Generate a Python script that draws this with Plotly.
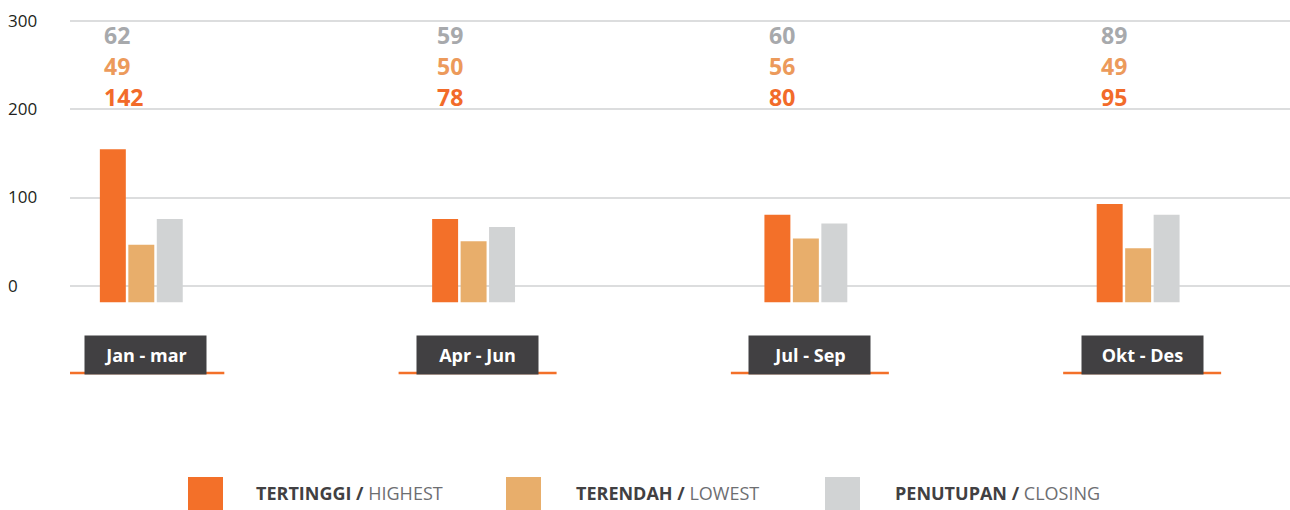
import plotly.graph_objects as go

quarters = ["Jan - mar", "Apr - Jun", "Jul - Sep", "Okt - Des"]

# printed values above each group
label_highest = [142, 78, 80, 95]
label_lowest = [49, 50, 56, 49]
label_closing = [62, 59, 60, 89]

# bar tops as drawn against the axis
bar_highest = [155, 76, 81, 93]
bar_lowest = [47, 51, 54, 43]
bar_closing = [76, 67, 71, 81]

series_bold = ["TERTINGGI /", "TERENDAH /", "PENUTUPAN /"]
series_plain = ["HIGHEST", "LOWEST", "CLOSING"]
y_ticks = [0, 100, 200, 300]

ORANGE = "#F37029"
LIGHT = "#E8AE6B"
GREY = "#D1D3D4"
DARK = "#414042"
FONT = "Open Sans"
BAR_BASE = -18

W, H = 1290, 510
ML, MR, MT, MB = 70, 0, 16, 206


def px_x(px):
    return (px - ML) / (W - ML - MR)


def px_y(py):
    return (H - MB - py) / (H - MT - MB)


fig = go.Figure()
colors = [ORANGE, LIGHT, GREY]
bars = [bar_highest, bar_lowest, bar_closing]
for name, vals, col in zip(series_plain, bars, colors):
    fig.add_trace(
        go.Bar(
            x=quarters,
            y=[v - BAR_BASE for v in vals],
            base=BAR_BASE,
            name=name,
            marker=dict(color=col, line=dict(width=0)),
            hoverinfo="skip",
        )
    )

annotations = []
shapes = []

# y tick labels, left aligned at the page edge
for t in y_ticks:
    annotations.append(
        dict(
            x=px_x(6), xref="paper", xanchor="left",
            y=t, yref="y", yanchor="middle", yshift=1,
            text=str(t), showarrow=False,
            font=dict(family=FONT, size=17, color="#231F20"),
        )
    )

# stacked value labels above each group
rows = [(label_closing, "#A7A9AC", 284), (label_lowest, "#EC9A5B", 249), (label_highest, "#F26B2A", 214)]
for i, q in enumerate(quarters):
    for vals, col, ypos in rows:
        annotations.append(
            dict(
                x=i, xref="x", xanchor="left", xshift=-39,
                y=ypos, yref="y", yanchor="middle",
                text="<b>%d</b>" % vals[i], showarrow=False,
                font=dict(family=FONT, size=23, color=col),
            )
        )
    # category box with orange underline
    annotations.append(
        dict(
            x=i, xref="x", xshift=4,
            y=px_y(355), yref="paper", yanchor="middle",
            text="<b>%s</b>" % q, showarrow=False,
            width=121, height=38, bgcolor=DARK, borderpad=0,
            font=dict(family=FONT, size=18, color="white"),
        )
    )
    shapes.append(
        dict(
            type="line", xref="x", xsizemode="pixel", xanchor=i,
            x0=-75, x1=83, yref="paper", y0=px_y(373), y1=px_y(373),
            line=dict(color=ORANGE, width=2.5),
        )
    )

# custom legend
legend_sq = [188, 506, 825]
legend_tx = [254, 574, 893]
for b, p, col, sx, tx in zip(series_bold, series_plain, colors, legend_sq, legend_tx):
    shapes.append(
        dict(
            type="rect", xref="paper", yref="paper",
            x0=px_x(sx), x1=px_x(sx + 35), y0=px_y(510), y1=px_y(477),
            fillcolor=col, line=dict(width=0),
        )
    )
    annotations.append(
        dict(
            x=px_x(tx), xref="paper", xanchor="left",
            y=px_y(493), yref="paper", yanchor="middle",
            text="<b>%s</b> <span style='color:#6D6E71'>%s</span>" % (b, p),
            showarrow=False,
            font=dict(family=FONT, size=18, color=DARK),
        )
    )

fig.update_layout(
    width=W, height=H,
    margin=dict(l=ML, r=MR, t=MT, b=MB),
    paper_bgcolor="white", plot_bgcolor="white",
    barmode="group", bargap=0.743, bargroupgap=0.088,
    showlegend=False,
    font=dict(family=FONT),
    xaxis=dict(
        range=[-0.2146, 3.457], showticklabels=False, showgrid=False,
        zeroline=False, showline=False, ticks="",
    ),
    yaxis=dict(
        range=[-20, 305.7], tickvals=y_ticks, showticklabels=False,
        showgrid=True, gridcolor="#DCDDDE", gridwidth=1.5,
        zeroline=False, showline=False,
    ),
    annotations=annotations,
    shapes=shapes,
)

# page body has a default 8px margin; drop it so the figure fills the window
fig.write_html(
    "out.html",
    config={"displayModeBar": False},
    post_script="document.body.style.margin='0';document.body.style.overflow='hidden';",
)
